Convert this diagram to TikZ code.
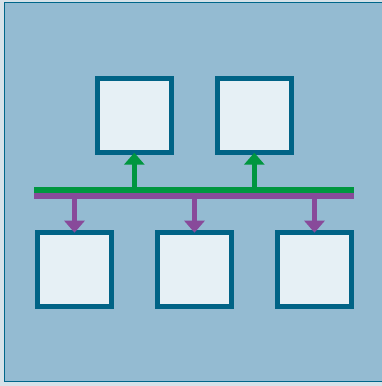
\documentclass[tikz,border=0pt]{standalone}
\usetikzlibrary{arrows.meta}
\definecolor{outerbg}{HTML}{D6E2E9}
\definecolor{panel}{HTML}{94BBD2}
\definecolor{frame}{HTML}{00668A}
\definecolor{boxfill}{HTML}{E6F0F5}
\definecolor{boxline}{HTML}{006386}
\definecolor{busgreen}{HTML}{009640}
\definecolor{buspurple}{HTML}{884A9A}
\begin{document}
\begin{tikzpicture}[x=1pt,y=-1pt,
  unitbox/.style={draw=boxline, fill=boxfill, line width=4.7pt, minimum width=74pt, minimum height=74pt, inner sep=0pt, outer sep=0pt},
  uparrow/.style={draw=busgreen, line width=5pt, -{Triangle[width=20pt,length=12pt]}},
  downarrow/.style={draw=buspurple, line width=5pt, -{Triangle[width=20pt,length=12pt]}}]
  \useasboundingbox (0,0) rectangle (382,386);
  \fill[outerbg] (0,0) rectangle (382,386);
  \draw[frame, fill=panel, line width=1pt] (4.5,2.5) rectangle (384,381.5);
  % boxes
  \node[unitbox] (t1) at (134.3,115.7) {};
  \node[unitbox] (t2) at (254.3,115.7) {};
  \node[unitbox] (b1) at (74.5,269.7) {};
  \node[unitbox] (b2) at (194.5,269.7) {};
  \node[unitbox] (b3) at (314.5,269.7) {};
  % bus
  \coordinate (gL) at (34,190.3);
  \coordinate (gR) at (354,190.3);
  \coordinate (pL) at (34,196.2);
  \coordinate (pR) at (354,196.2);
  \draw[busgreen, line width=6pt] (gL) -- (gR);
  \draw[buspurple, line width=5.8pt] (pL) -- (pR);
  % up arrows
  \coordinate (u1) at (134.3,190);
  \coordinate (u2) at (254.3,190);
  \draw[uparrow] (u1) -- (t1.south);
  \draw[uparrow] (u2) -- (t2.south);
  % down arrows
  \coordinate (d1) at (74.5,198);
  \coordinate (d2) at (194.5,198);
  \coordinate (d3) at (314.5,198);
  \draw[downarrow] (d1) -- (b1.north);
  \draw[downarrow] (d2) -- (b2.north);
  \draw[downarrow] (d3) -- (b3.north);
\end{tikzpicture}
\end{document}
